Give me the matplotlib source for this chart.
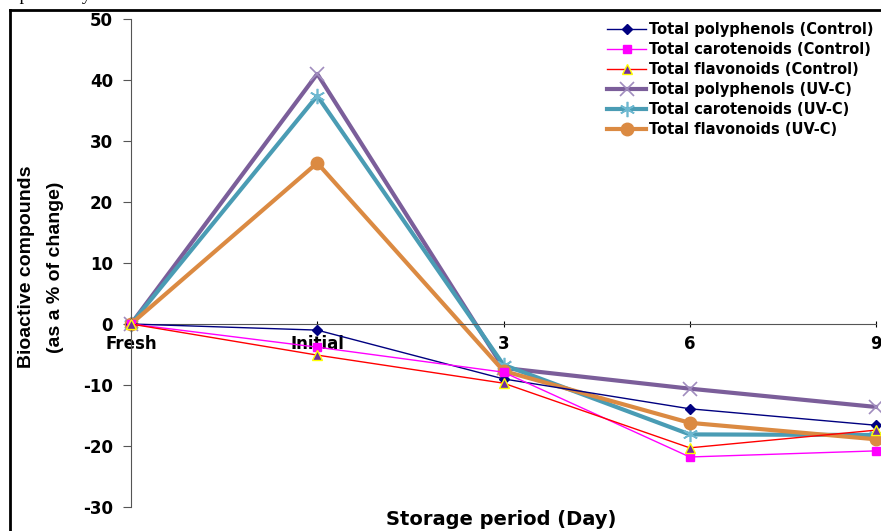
import matplotlib
matplotlib.use('agg')
from matplotlib import pyplot as plt
from matplotlib.lines import Line2D

# ====================================
# Data
# ====================================
days = ["Fresh", "Initial", "3", "6", "9"]

poly_control = [0, -1.0, -9.0, -13.9, -16.6]
caro_control = [0, -3.8, -7.9, -21.8, -20.8]
flav_control = [0, -5.1, -9.7, -20.3, -17.4]
poly_uvc = [0, 41.0, -7.2, -10.6, -13.6]
caro_uvc = [0, 37.4, -6.7, -18.1, -18.2]
flav_uvc = [0, 26.4, -7.7, -16.2, -18.9]

yticks = [-30, -20, -10, 0, 10, 20, 30, 40, 50]

plt.rcParams['font.family'] = ['DejaVu Sans']

W, H = 881, 531
fig = plt.figure(figsize=(W / 100, H / 100), dpi=100)
ax = fig.add_axes([131 / W, 24 / H, (876 - 131) / W, (507 - 19) / H])

x = list(range(len(days)))

ax.plot(x, poly_control, color='#000080', lw=1, marker='D', ms=5,
        label='Total polyphenols (Control)', clip_on=False, zorder=3)
ax.plot(x, caro_control, color='#FF00FF', lw=1, marker='s', ms=6,
        label='Total carotenoids (Control)', clip_on=False, zorder=3)
ax.plot(x, flav_control, color='#FF0000', lw=1, marker='^', ms=7,
        mfc='#7030A0', mec='#FFFF00', mew=1,
        label='Total flavonoids (Control)', clip_on=False, zorder=3)
ax.plot(x, poly_uvc, color='#7B5E9A', lw=3, marker='x', ms=10,
        mec='#A08CBE', mew=1.2,
        label='Total polyphenols (UV-C)', clip_on=False, zorder=2)
ax.plot(x, caro_uvc, color='#4A9CB4', lw=3, marker=(6, 2, 0), ms=11,
        mec='#6EB8D0', mew=1.2,
        label='Total carotenoids (UV-C)', clip_on=False, zorder=2)
ax.plot(x, flav_uvc, color='#DB8A42', lw=3, marker='o', ms=9,
        label='Total flavonoids (UV-C)', clip_on=False, zorder=2)

ax.set_xlim(0, 4)
ax.set_ylim(-30, 50)
ax.set_yticks(yticks)
ax.set_yticklabels([str(v) for v in yticks], fontsize=12, fontweight='bold')

# x axis sits on the zero line
ax.spines['bottom'].set_position(('data', 0))
ax.spines['bottom'].set_color('#555555')
ax.spines['left'].set_color('#555555')
ax.spines['top'].set_visible(False)
ax.spines['right'].set_visible(False)
ax.set_xticks(x)
ax.set_xticklabels(days, fontsize=12, fontweight='bold')
ax.tick_params(axis='x', length=4, direction='inout', pad=6)
ax.tick_params(axis='y', length=6, direction='out', color='#555555', pad=7)
ax.patch.set_alpha(0)

ax.set_xlabel('Storage period (Day)', fontsize=14, fontweight='bold')
ax.xaxis.set_label_coords(501 / (876 - 131) - 131 / (876 - 131), -3 / (507 - 19))

fig.text(41 / W, 1 - 267 / H, 'Bioactive compounds\n(as a % of change)',
         rotation=90, ha='center', va='center', fontsize=14,
         fontweight='bold', linespacing=1.95,
         family=['Liberation Sans', 'DejaVu Sans'])

leg = ax.legend(loc='upper right', bbox_to_anchor=(1.0, 1.0), frameon=False,
                prop={'size': 10.5, 'weight': 'bold'}, handlelength=2.7,
                handletextpad=0.15, labelspacing=0.34, borderaxespad=0,
                borderpad=0.2)

# outer frame of the cropped figure
fig.add_artist(Line2D([10 / W, 10 / W], [0, 1 - 10 / H], color='black', lw=2))
fig.add_artist(Line2D([10 / W, 1], [1 - 10 / H, 1 - 10 / H], color='black', lw=2))

# caption remnant cut off at the top edge
fig.text(0, 1 + 5 / H, 'r up to 9 days', fontsize=13, va='center', ha='left',
         family=['Liberation Serif', 'DejaVu Serif'])

fig.savefig('out.png', dpi=100)
